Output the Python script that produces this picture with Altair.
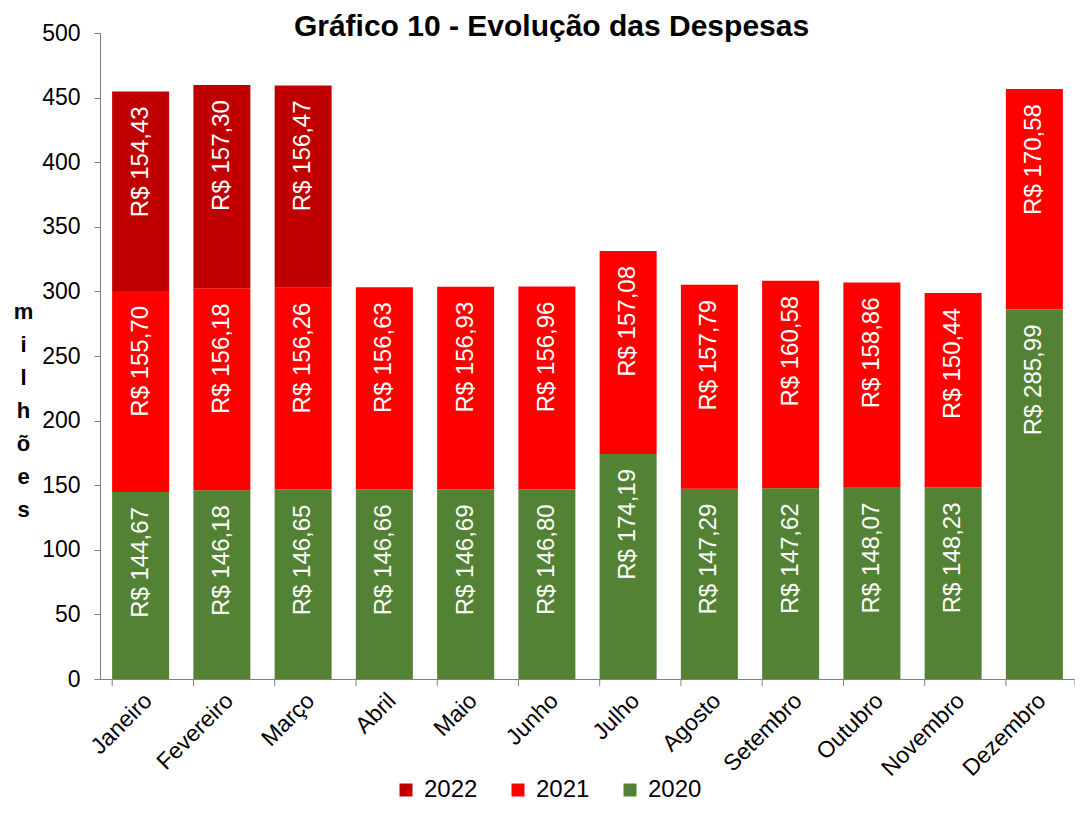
import altair as alt
import pandas as pd

meses = ["Janeiro", "Fevereiro", "Março", "Abril", "Maio", "Junho", "Julho",
         "Agosto", "Setembro", "Outubro", "Novembro", "Dezembro"]
anos = ["2022", "2021", "2020"]
v2020 = [144.67, 146.18, 146.65, 146.66, 146.69, 146.80, 174.19, 147.29, 147.62, 148.07, 148.23, 285.99]
v2021 = [155.70, 156.18, 156.26, 156.63, 156.93, 156.96, 157.08, 157.79, 160.58, 158.86, 150.44, 170.58]
v2022 = [154.43, 157.30, 156.47]
cores = ["#C00000", "#FF0000", "#548235"]
y_ticks = list(range(0, 501, 50))

rows = []
for ano, vals in (("2020", v2020), ("2021", v2021), ("2022", v2022)):
    for m, v in zip(meses, vals):
        rows.append({"mes": m, "ano": ano, "ordem": int(ano), "valor": v,
                     "rotulo": "R$ " + f"{v:.2f}".replace(".", ",")})
df = pd.DataFrame(rows)
df_mes = pd.DataFrame({"mes": meses})
df_end = pd.DataFrame({"k": [0]})

FONT = "Liberation Sans"
W, H = 975, 646
GREY = "#808080"

x_enc = alt.X("mes:N", sort=meses,
              scale=alt.Scale(paddingInner=0.3, paddingOuter=0.15),
              axis=alt.Axis(title=None, labelAngle=-45, labelFontSize=23, labelFont=FONT,
                            labelColor="black", ticks=False, domainColor=GREY,
                            labelPadding=10))

y_enc = alt.Y("valor:Q", stack="zero",
              scale=alt.Scale(domain=[0, 500]),
              axis=alt.Axis(values=y_ticks, grid=False, domainColor=GREY, tickColor=GREY,
                            tickSize=6, labelFontSize=23, labelFont=FONT, labelColor="black",
                            labelPadding=14,
                            title=["m", "i", "l", "h", "õ", "e", "s"], titleAngle=0,
                            titleFont=FONT, titleFontSize=22, titleFontWeight="bold",
                            titleColor="black", titleLineHeight=33, titleX=-77, titleY=285,
                            titleAlign="center", titleBaseline="alphabetic"))

bars = alt.Chart(df).mark_bar(size=57).encode(
    x=x_enc,
    y=y_enc,
    color=alt.Color("ano:N", scale=alt.Scale(domain=anos, range=cores),
                    legend=alt.Legend(title=None, orient="none", legendX=294, legendY=745,
                                      direction="horizontal", symbolType="square",
                                      symbolSize=169, symbolStrokeWidth=0,
                                      labelFontSize=24, labelFont=FONT, labelColor="black",
                                      columnPadding=28, labelOffset=6)),
    order=alt.Order("ordem:Q", sort="ascending"),
)

labels = alt.Chart(df).transform_stack(
    stack="valor", groupby=["mes"], as_=["y0", "y1"],
    sort=[alt.SortField("ordem", order="ascending")]
).mark_text(angle=270, align="right", baseline="middle", yOffset=15,
            fontSize=24, font=FONT, color="white").encode(
    x=alt.X("mes:N", sort=meses),
    y=alt.Y("y1:Q"),
    text="rotulo:N",
)

ticks = alt.Chart(df_mes).mark_rule(color=GREY, strokeWidth=1).encode(
    x=alt.X("mes:N", sort=meses, bandPosition=0),
    y=alt.value(H), y2=alt.value(H + 7),
)
tick_end = alt.Chart(df_end).mark_rule(color=GREY, strokeWidth=1).encode(
    x=alt.value(W), y=alt.value(H), y2=alt.value(H + 7),
)

chart = alt.layer(bars, labels, ticks, tick_end).properties(
    width=W, height=H,
    autosize=alt.AutoSizeParams(type="none"),
    padding={"left": 92, "top": 25, "right": 0, "bottom": 125},
    title=alt.Title("Gráfico 10 - Evolução das Despesas", fontSize=30, fontWeight="bold",
                    font=FONT, color="black", anchor="middle", dx=-36, dy=24),
).configure_view(stroke=None)

chart.save("out.html", embed_options={"renderer": "svg", "actions": False})
